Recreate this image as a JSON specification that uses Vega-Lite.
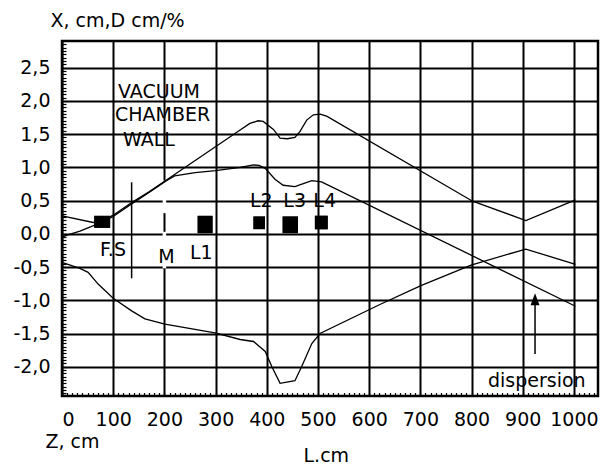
{
  "$schema": "https://vega.github.io/schema/vega-lite/v6.json",
  "width": 536,
  "height": 355,
  "autosize": {"type": "none"},
  "padding": {"left": 62, "top": 41, "right": 6, "bottom": 73},
  "background": "white",
  "config": {
    "view": {"stroke": "#000", "strokeWidth": 2.5},
    "font": "DejaVu Sans",
    "axis": {"labelFont": "DejaVu Sans", "titleFont": "DejaVu Sans", "labelColor": "#000", "titleColor": "#000", "labelFontSize": 19, "titleFontSize": 19, "titleFontWeight": "normal"}
  },
  "layer": [
    {
      "data": {"values": [
        {"name": "F.S", "x1": 63, "x2": 94, "y1": 0.27, "y2": 0.09},
        {"name": "L1", "x1": 265, "x2": 294, "y1": 0.27, "y2": 0.01},
        {"name": "L2", "x1": 374, "x2": 396.5, "y1": 0.26, "y2": 0.07},
        {"name": "L3", "x1": 431, "x2": 461, "y1": 0.26, "y2": 0.01},
        {"name": "L4", "x1": 494, "x2": 519, "y1": 0.27, "y2": 0.07}
      ]},
      "mark": {"type": "rect", "color": "#000"},
      "encoding": {
        "x": {"field": "x1", "type": "quantitative", "scale": {"domain": [0, 1047], "nice": false, "zero": false},
          "axis": {"orient": "top", "offset": -355, "values": [0,10,20,30,40,50,60,70,80,90,100,110,120,130,140,150,160,170,180,190,200,210,220,230,240,250,260,270,280,290,300,310,320,330,340,350,360,370,380,390,400,410,420,430,440,450,460,470,480,490,500,510,520,530,540,550,560,570,580,590,600,610,620,630,640,650,660,670,680,690,700,710,720,730,740,750,760,770,780,790,800,810,820,830,840,850,860,870,880,890,900,910,920,930,940,950,960,970,980,990,1000,1010,1020,1030,1040],
            "labels": true, "labelExpr": "''", "grid": false, "domain": true, "domainColor": "#000", "domainWidth": 1, "ticks": true, "tickSize": 3.5, "tickColor": "#000", "tickWidth": 1.2,
            "title": "Z, cm", "titleX": -17, "titleY": 51, "titleAlign": "left", "titleBaseline": "alphabetic", "titleAnchor": null, "titleAngle": 0}},
        "x2": {"field": "x2"},
        "y": {"field": "y1", "type": "quantitative", "scale": {"domain": [-2.44, 2.9], "nice": false, "zero": false},
          "axis": {"orient": "right", "offset": -536, "values": [-2.4,-2.35,-2.3,-2.25,-2.2,-2.15,-2.1,-2.05,-2,-1.95,-1.9,-1.85,-1.8,-1.75,-1.7,-1.65,-1.6,-1.55,-1.5,-1.45,-1.4,-1.35,-1.3,-1.25,-1.2,-1.15,-1.1,-1.05,-1,-0.95,-0.9,-0.85,-0.8,-0.75,-0.7,-0.65,-0.6,-0.55,-0.5,-0.45,-0.4,-0.35,-0.3,-0.25,-0.2,-0.15,-0.1,-0.05,0,0.05,0.1,0.15,0.2,0.25,0.3,0.35,0.4,0.45,0.5,0.55,0.6,0.65,0.7,0.75,0.8,0.85,0.9,0.95,1,1.05,1.1,1.15,1.2,1.25,1.3,1.35,1.4,1.45,1.5,1.55,1.6,1.65,1.7,1.75,1.8,1.85,1.9,1.95,2,2.05,2.1,2.15,2.2,2.25,2.3,2.35,2.4,2.45,2.5,2.55,2.6,2.65,2.7,2.75,2.8,2.85],
            "labels": true, "labelExpr": "''", "grid": false, "domain": true, "domainColor": "#000", "domainWidth": 1, "ticks": true, "tickSize": 4, "tickColor": "#000", "tickWidth": 1.2, "title": null}},
        "y2": {"field": "y2"}
      }
    },
    {
      "data": {"values": [
        {"x": 200, "y": 0.80, "y2": 0.31},
        {"x": 200, "y": 0.03, "y2": -0.52}
      ]},
      "mark": {"type": "rule", "color": "white", "strokeWidth": 3.5},
      "encoding": {
        "x": {"field": "x", "type": "quantitative", "scale": {"domain": [0, 1047], "nice": false, "zero": false},
          "axis": {"orient": "bottom", "values": [0,100,200,300,400,500,600,700,800,900,1000], "format": "d", "grid": true, "gridColor": "#000", "gridWidth": 2, "gridOpacity": 1, "ticks": false, "domain": false, "labelPadding": 14,
            "title": "L.cm", "titleX": 241, "titleY": 65, "titleAlign": "left", "titleBaseline": "alphabetic", "titleAnchor": null}},
        "y": {"field": "y", "type": "quantitative", "scale": {"domain": [-2.44, 2.9], "nice": false, "zero": false},
          "axis": {"orient": "left", "values": [-2,-1.5,-1,-0.5,0,0.5,1,1.5,2,2.5], "labelExpr": "replace(replace(format(datum.value, '.1f'), '.', ','), '\u2212', '-')", "grid": true, "gridColor": "#000", "gridWidth": 2, "gridOpacity": 1, "ticks": false, "domain": false, "labelPadding": 12,
            "title": "X, cm,D cm/%", "titleAngle": 0, "titleX": -12, "titleY": -15, "titleAlign": "left", "titleBaseline": "alphabetic", "titleAnchor": null}},
        "y2": {"field": "y2"}
      }
    },
    {
      "data": {"values": [
        {"c": "A", "x": 0, "y": 0.27}, {"c": "A", "x": 61, "y": 0.17}, {"c": "A", "x": 80, "y": 0.2}, {"c": "A", "x": 100, "y": 0.28},
        {"c": "A", "x": 136, "y": 0.47}, {"c": "A", "x": 170, "y": 0.63}, {"c": "A", "x": 204, "y": 0.81}, {"c": "A", "x": 348, "y": 1.56},
        {"c": "A", "x": 367, "y": 1.66}, {"c": "A", "x": 383, "y": 1.70}, {"c": "A", "x": 393, "y": 1.69}, {"c": "A", "x": 413, "y": 1.57},
        {"c": "A", "x": 426, "y": 1.44}, {"c": "A", "x": 440, "y": 1.43}, {"c": "A", "x": 455, "y": 1.45}, {"c": "A", "x": 465, "y": 1.54},
        {"c": "A", "x": 478, "y": 1.71}, {"c": "A", "x": 491, "y": 1.79}, {"c": "A", "x": 504, "y": 1.80}, {"c": "A", "x": 517, "y": 1.77},
        {"c": "A", "x": 802, "y": 0.49}, {"c": "A", "x": 906, "y": 0.2}, {"c": "A", "x": 1003, "y": 0.51},
        {"c": "B", "x": 0, "y": -0.05}, {"c": "B", "x": 10, "y": -0.02}, {"c": "B", "x": 35, "y": 0.04}, {"c": "B", "x": 58, "y": 0.11},
        {"c": "B", "x": 80, "y": 0.18}, {"c": "B", "x": 100, "y": 0.26}, {"c": "B", "x": 136, "y": 0.45}, {"c": "B", "x": 170, "y": 0.62},
        {"c": "B", "x": 204, "y": 0.80}, {"c": "B", "x": 220, "y": 0.87}, {"c": "B", "x": 260, "y": 0.92}, {"c": "B", "x": 300, "y": 0.95},
        {"c": "B", "x": 348, "y": 1.0}, {"c": "B", "x": 374, "y": 1.035}, {"c": "B", "x": 385, "y": 1.03}, {"c": "B", "x": 397, "y": 0.985},
        {"c": "B", "x": 416, "y": 0.82}, {"c": "B", "x": 432, "y": 0.73}, {"c": "B", "x": 455, "y": 0.71}, {"c": "B", "x": 470, "y": 0.75},
        {"c": "B", "x": 488, "y": 0.80}, {"c": "B", "x": 507, "y": 0.78}, {"c": "B", "x": 1003, "y": -1.09},
        {"c": "C", "x": 0, "y": -0.43}, {"c": "C", "x": 35, "y": -0.52}, {"c": "C", "x": 51, "y": -0.58}, {"c": "C", "x": 71, "y": -0.76},
        {"c": "C", "x": 100, "y": -0.97}, {"c": "C", "x": 136, "y": -1.16}, {"c": "C", "x": 162, "y": -1.28}, {"c": "C", "x": 201, "y": -1.36},
        {"c": "C", "x": 299, "y": -1.49}, {"c": "C", "x": 348, "y": -1.59}, {"c": "C", "x": 374, "y": -1.62}, {"c": "C", "x": 397, "y": -1.77},
        {"c": "C", "x": 410, "y": -2.0}, {"c": "C", "x": 426, "y": -2.25}, {"c": "C", "x": 455, "y": -2.21}, {"c": "C", "x": 468, "y": -2.0},
        {"c": "C", "x": 488, "y": -1.65}, {"c": "C", "x": 504, "y": -1.5}, {"c": "C", "x": 622, "y": -1.06}, {"c": "C", "x": 701, "y": -0.78},
        {"c": "C", "x": 799, "y": -0.47}, {"c": "C", "x": 906, "y": -0.23}, {"c": "C", "x": 1003, "y": -0.46}
      ]},
      "mark": {"type": "line", "color": "#000", "strokeWidth": 1.3},
      "encoding": {
        "x": {"field": "x", "type": "quantitative", "scale": {"domain": [0, 1047], "nice": false, "zero": false}, "axis": null},
        "y": {"field": "y", "type": "quantitative", "scale": {"domain": [-2.44, 2.9], "nice": false, "zero": false}, "axis": null},
        "detail": {"field": "c"}
      }
    },
    {
      "data": {"values": [
        {"name": "F.S", "x1": 63, "x2": 94, "y1": 0.27, "y2": 0.09},
        {"name": "L1", "x1": 265, "x2": 294, "y1": 0.27, "y2": 0.01},
        {"name": "L2", "x1": 374, "x2": 396.5, "y1": 0.26, "y2": 0.07},
        {"name": "L3", "x1": 431, "x2": 461, "y1": 0.26, "y2": 0.01},
        {"name": "L4", "x1": 494, "x2": 519, "y1": 0.27, "y2": 0.07}
      ]},
      "mark": {"type": "rect", "color": "#000"},
      "encoding": {
        "x": {"field": "x1", "type": "quantitative", "scale": {"domain": [0, 1047], "nice": false, "zero": false}, "axis": null},
        "x2": {"field": "x2"},
        "y": {"field": "y1", "type": "quantitative", "scale": {"domain": [-2.44, 2.9], "nice": false, "zero": false}, "axis": null},
        "y2": {"field": "y2"}
      }
    },
    {
      "data": {"values": [
        {"x": 136, "y": 0.775, "y2": -0.67},
        {"x": 924, "y": -1.81, "y2": -1.0}
      ]},
      "mark": {"type": "rule", "color": "#000", "strokeWidth": 1.5},
      "encoding": {
        "x": {"field": "x", "type": "quantitative", "scale": {"domain": [0, 1047], "nice": false, "zero": false}, "axis": null},
        "y": {"field": "y", "type": "quantitative", "scale": {"domain": [-2.44, 2.9], "nice": false, "zero": false}, "axis": null},
        "y2": {"field": "y2"}
      }
    },
    {
      "data": {"values": [{"x": 924, "y": -0.986}]},
      "mark": {"type": "point", "shape": "M0,-1L-0.75,1L0.75,1Z", "filled": true, "color": "#000", "size": 144, "opacity": 1},
      "encoding": {
        "x": {"field": "x", "type": "quantitative", "scale": {"domain": [0, 1047], "nice": false, "zero": false}, "axis": null},
        "y": {"field": "y", "type": "quantitative", "scale": {"domain": [-2.44, 2.9], "nice": false, "zero": false}, "axis": null}
      }
    },
    {
      "data": {"values": [
        {"t": "VACUUM", "x": 109.4, "y": 2.04},
        {"t": "CHAMBER", "x": 103.5, "y": 1.69},
        {"t": "WALL", "x": 119.2, "y": 1.32},
        {"t": "F.S", "x": 74.2, "y": -0.334},
        {"t": "M", "x": 188.1, "y": -0.435},
        {"t": "L1", "x": 250, "y": -0.384},
        {"t": "L2", "x": 367.2, "y": 0.398},
        {"t": "L3", "x": 432.3, "y": 0.398},
        {"t": "L4", "x": 490.9, "y": 0.398},
        {"t": "dispersion", "x": 832.1, "y": -2.30}
      ]},
      "mark": {"type": "text", "align": "left", "baseline": "alphabetic", "font": "DejaVu Sans", "fontSize": 19, "color": "#000"},
      "encoding": {
        "x": {"field": "x", "type": "quantitative", "scale": {"domain": [0, 1047], "nice": false, "zero": false}, "axis": null},
        "y": {"field": "y", "type": "quantitative", "scale": {"domain": [-2.44, 2.9], "nice": false, "zero": false}, "axis": null},
        "text": {"field": "t"}
      }
    }
  ]
}
